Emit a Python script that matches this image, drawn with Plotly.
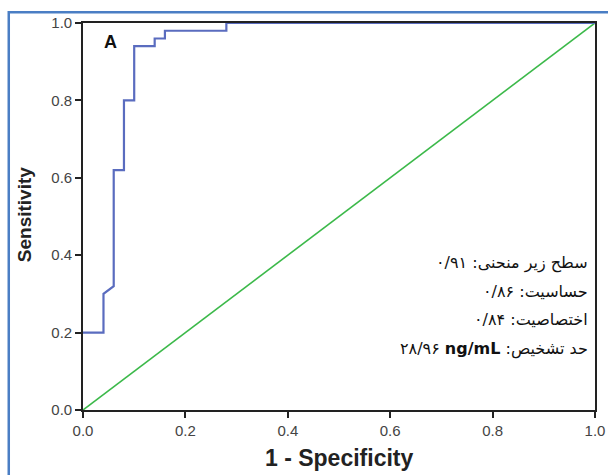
import plotly.graph_objects as go

# ROC curve (1 - specificity, sensitivity)
roc_fpr = [0.0, 0.04, 0.04, 0.06, 0.06, 0.08, 0.08, 0.10, 0.10, 0.14, 0.14, 0.16, 0.16, 0.28, 0.28, 1.0]
roc_tpr = [0.20, 0.20, 0.30, 0.32, 0.62, 0.62, 0.80, 0.80, 0.94, 0.94, 0.96, 0.96, 0.98, 0.98, 1.0, 1.0]
ref_x = [0.0, 1.0]
ref_y = [0.0, 1.0]
tick_vals = [0.0, 0.2, 0.4, 0.6, 0.8, 1.0]
tick_text = ["0.0", "0.2", "0.4", "0.6", "0.8", "1.0"]
stat_lines = [
    "سطح زیر منحنی: ۰/۹۱",
    "حساسیت: ۰/۸۶",
    "اختصاصیت: ۰/۸۴",
    "۲۸/۹۶ <b>ng/mL</b> :حد تشخیص",
]
stat_y = [0.381, 0.306, 0.233, 0.158]

fig = go.Figure()
fig.add_trace(go.Scatter(x=ref_x, y=ref_y, mode="lines",
                         line=dict(color="#3cb94a", width=1.6), hoverinfo="skip"))
fig.add_trace(go.Scatter(x=roc_fpr, y=roc_tpr, mode="lines",
                         line=dict(color="#5a6cbf", width=2.2), hoverinfo="skip"))

axis_common = dict(
    range=[0, 1], tickvals=tick_vals, ticktext=tick_text, automargin=False,
    showgrid=False, zeroline=False, showline=True, linecolor="#222",
    linewidth=1.6, mirror=True, ticks="outside", ticklen=6, tickwidth=1.6,
    tickcolor="#222", tickfont=dict(family="Liberation Sans, Arial", size=15, color="#444"),
)
fig.update_xaxes(**axis_common)
fig.update_yaxes(**axis_common)

fig.add_annotation(x=0.5, y=-0.125, xref="paper", yref="paper", text="<b>1 - Specificity</b>",
                   showarrow=False, xanchor="center", yanchor="middle",
                   font=dict(family="Liberation Sans, Arial", size=23, color="#222"))
fig.add_annotation(x=-0.114, y=0.505, xref="paper", yref="paper", text="<b>Sensitivity</b>",
                   showarrow=False, textangle=-90, xanchor="center", yanchor="middle",
                   font=dict(family="Liberation Sans, Arial", size=19, color="#222"))

fig.add_annotation(x=0.054, y=0.952, xref="x", yref="y", text="<b>A</b>", showarrow=False,
                   font=dict(family="Liberation Sans, Arial", size=18, color="#111"))
for t, yy in zip(stat_lines, stat_y):
    fig.add_annotation(x=0.99, y=yy, xref="paper", yref="paper", text=t, showarrow=False,
                       xanchor="right", yanchor="middle",
                       font=dict(family="DejaVu Sans, Liberation Sans", size=16, color="#111"))

fig.add_shape(type="rect", xref="paper", yref="paper", x0=-0.145, x1=1.2, y0=-0.3, y1=1.028,
              line=dict(color="#4a7ec4", width=2.5), layer="below")

fig.update_layout(
    width=608, height=475, showlegend=False,
    margin=dict(l=82.5, r=12.5, t=23.3, b=64.5),
    paper_bgcolor="white", plot_bgcolor="white",
)
fig.write_html("out.html", config={"displayModeBar": False},
               post_script="document.body.style.margin='0';document.body.style.overflow='hidden';")
